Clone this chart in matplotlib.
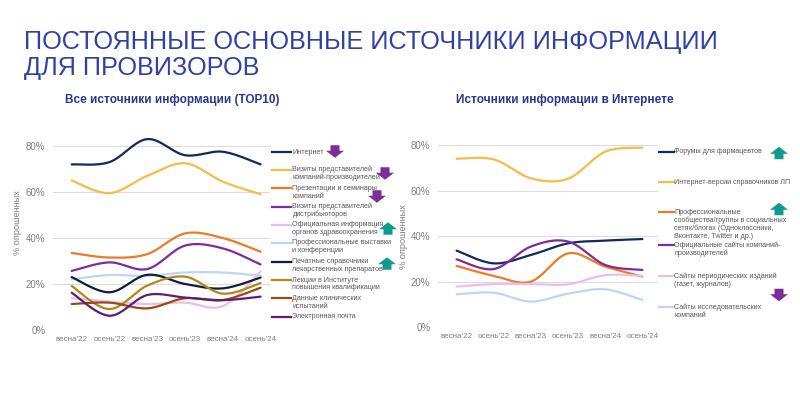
import numpy as np
import matplotlib
matplotlib.use('Agg')
import matplotlib.pyplot as plt
from matplotlib.patches import Polygon

plt.rcParams['font.family'] = ['Liberation Sans', 'DejaVu Sans']

# ---------------- data ----------------
periods = ["весна'22", "осень'22", "весна'23", "осень'23", "весна'24", "осень'24"]
y_ticks = [0, 20, 40, 60, 80]

# left chart: all sources (TOP10)
internet = [72, 73, 83, 76, 77.5, 72]
visits_manuf = [65, 59.5, 67, 72.5, 64.5, 59]
presentations = [33.5, 31.5, 33, 42, 40, 34]
visits_distr = [25.7, 29.4, 26.5, 36.7, 35.5, 28.5]
official_info = [13.8, 12.3, 11.3, 11.9, 10.4, 25.4]
exhibitions = [22, 23.9, 23.5, 25, 25, 23.6]
printed_refs = [23, 16.4, 24, 20, 18.1, 22.8]
lectures = [19.1, 9.1, 19.3, 23.2, 15.8, 20.4]
clinical = [11.3, 11.9, 9.4, 13.8, 13, 18.4]
email = [16.2, 6.2, 15.2, 14.1, 13, 14.5]

left_labels = [
    "Интернет",
    "Визиты представителей\nкомпаний-производителей",
    "Презентации и семинары\nкомпаний",
    "Визиты представителей\nдистрибьюторов",
    "Официальная информация\nорганов здравоохранения",
    "Профессиональные выставки\nи конференции",
    "Печатные справочники\nлекарственных препаратов",
    "Лекции в Институте\nповышения квалификации",
    "Данные клинических\nиспытаний",
    "Электронная почта",
]
left_series = [internet, visits_manuf, presentations, visits_distr, official_info,
               exhibitions, printed_refs, lectures, clinical, email]
left_colors = ['#0F2A5C', '#F5BD45', '#EE7A22', '#7E2C9C', '#E8BFEA',
               '#BBD7F5', '#101E3C', '#B08A14', '#9A4814', '#5B1E72']

# right chart: internet sources
forums = [33.7, 28.1, 31.8, 36.9, 38.1, 38.8]
online_refs = [74.1, 73.8, 65.5, 65.3, 77.2, 79]
prof_communities = [27, 22.6, 20.1, 32.5, 26.7, 22.3]
company_sites = [29.9, 25.6, 35.5, 37.7, 27.4, 25.2]
periodicals = [17.9, 19, 19, 18.9, 22.9, 22.6]
research_sites = [14.5, 15.2, 11.3, 14.8, 16.7, 12]

right_labels = [
    "Форумы для фармацевтов",
    "Интернет-версии справочников ЛП",
    "Профессиональные\nсообщества/группы в социальных\nсетях/блогах (Одноклассники,\nВконтакте, Twitter и др.)",
    "Официальные сайты компаний-\nпроизводителей",
    "Сайты периодических изданий\n(газет, журналов)",
    "Сайты исследовательских\nкомпаний",
]
right_series = [forums, online_refs, prof_communities, company_sites, periodicals, research_sites]
right_colors = ['#0F2A5C', '#F5BD45', '#EE7A22', '#7E2C9C', '#E8BFEA', '#BBD7F5']

title_lines = ["ПОСТОЯННЫЕ ОСНОВНЫЕ ИСТОЧНИКИ ИНФОРМАЦИИ", "ДЛЯ ПРОВИЗОРОВ"]
left_title = "Все источники информации (TOP10)"
right_title = "Источники информации в Интернете"
y_label = "% опрошенных"

# ---------------- helpers ----------------
def catmull(x, y, n=30):
    pts = np.column_stack([x, y]).astype(float)
    p = np.vstack([pts[0], pts, pts[-1]])
    t = np.linspace(0, 1, n, endpoint=False)
    out = []
    for i in range(1, len(p) - 2):
        p0, p1, p2, p3 = p[i - 1], p[i], p[i + 1], p[i + 2]
        a = 2 * p1
        b = p2 - p0
        c = 2 * p0 - 5 * p1 + 4 * p2 - p3
        d = -p0 + 3 * p1 - 3 * p2 + p3
        out.append(0.5 * (a + np.outer(t, b) + np.outer(t ** 2, c) + np.outer(t ** 3, d)))
    out.append(pts[-1][None, :])
    s = np.vstack(out)
    return s[:, 0], s[:, 1]


def setup_axes(ax, xlim):
    ax.set_xlim(*xlim)
    ax.set_ylim(0, 88)
    for sp in ax.spines.values():
        sp.set_visible(False)
    ax.set_yticks(y_ticks)
    ax.set_yticklabels([f"{v}%" for v in y_ticks])
    ax.set_xticks(range(len(periods)))
    ax.set_xticklabels(periods)
    ax.tick_params(axis='y', length=0, pad=5.5, labelsize=7, labelcolor='#7F7F7F')
    ax.tick_params(axis='x', length=0, pad=4, labelsize=5.8, labelcolor='#7F7F7F')
    for v in y_ticks:
        ax.axhline(v, color='#DCDCDC', lw=0.8, zorder=0)


fig = plt.figure(figsize=(8, 4), dpi=100)
fig.patch.set_facecolor('white')

# overlay in pixel coordinates for titles, legends and arrows
ov = fig.add_axes([0, 0, 1, 1])
ov.set_xlim(0, 800)
ov.set_ylim(400, 0)
ov.axis('off')

axL = fig.add_axes([53 / 800, 1 - 330 / 400, 217 / 800, 202.4 / 400])
axR = fig.add_axes([438 / 800, 1 - 327.3 / 400, 220 / 800, 200.2 / 400])
setup_axes(axL, (-0.495, 5.25))
setup_axes(axR, (-0.5, 5.42))

xs = np.arange(len(periods))
for vals, col in zip(left_series, left_colors):
    sx, sy = catmull(xs, vals)
    axL.plot(sx, sy, color=col, lw=1.6, solid_capstyle='round', clip_on=False, zorder=3)
for vals, col in zip(right_series, right_colors):
    sx, sy = catmull(xs, vals)
    axR.plot(sx, sy, color=col, lw=1.6, solid_capstyle='round', clip_on=False, zorder=3)

# titles
title_color = '#3041A4'
ov.text(24, 49.5, title_lines[0], fontsize=18.2, color=title_color, va='baseline', ha='left')
ov.text(24, 74.5, title_lines[1], fontsize=18.2, color=title_color, va='baseline', ha='left')
ov.text(65, 103, left_title, fontsize=8.5, fontweight='bold', color='#2A368F', va='baseline')
ov.text(456, 103, right_title, fontsize=8.5, fontweight='bold', color='#2A368F', va='baseline')

ov.text(18, 223, y_label, rotation=90, fontsize=6.6, color='#7F7F7F', ha='center', va='center')
ov.text(404, 237, y_label, rotation=90, fontsize=6.6, color='#7F7F7F', ha='center', va='center')

# legends
def legend(entries, colors, ys, x0, x1, xt, dy=7.8):
    for lab, col, y in zip(entries, colors, ys):
        ov.plot([x0, x1], [y, y], color=col, lw=1.6)
        for k, line in enumerate(lab.split('\n')):
            ov.text(xt, y + k * dy, line, fontsize=5.1, color='#595959', va='center', ha='left')

left_leg_y = [152, 169.5, 188.3, 206.7, 225, 242.7, 261.7, 280, 298.3, 316.7]
legend(left_labels, left_colors, left_leg_y, 272, 291, 292.5)
right_leg_y = [151.7, 182.3, 212.3, 245, 276, 307.3]
legend(right_labels, right_colors, right_leg_y, 656, 673.5, 674.5, dy=8.1)

# trend arrows
def arrow(cx, cy, direction, w=18, h=12.5, head=7, stem=9):
    if direction == 'down':
        top = cy - h / 2
        pts = [(cx - stem / 2, top), (cx + stem / 2, top), (cx + stem / 2, top + (h - head)),
               (cx + w / 2, top + (h - head)), (cx, top + h), (cx - w / 2, top + (h - head)),
               (cx - stem / 2, top + (h - head))]
        col = '#7B2D98'
    else:
        bot = cy + h / 2
        pts = [(cx - stem / 2, bot), (cx + stem / 2, bot), (cx + stem / 2, bot - (h - head)),
               (cx + w / 2, bot - (h - head)), (cx, bot - h), (cx - w / 2, bot - (h - head)),
               (cx - stem / 2, bot - (h - head))]
        col = '#11998E'
    ov.add_patch(Polygon(pts, closed=True, facecolor=col, edgecolor='none'))

arrow(335, 151.5, 'down')
arrow(385, 173.5, 'down')
arrow(377, 196.5, 'down')
arrow(388, 228.5, 'up')
arrow(387, 263.5, 'up')
arrow(779, 153, 'up')
arrow(779, 209, 'up')
arrow(779, 295, 'down')

fig.savefig('out.png', dpi=100, facecolor='white')
